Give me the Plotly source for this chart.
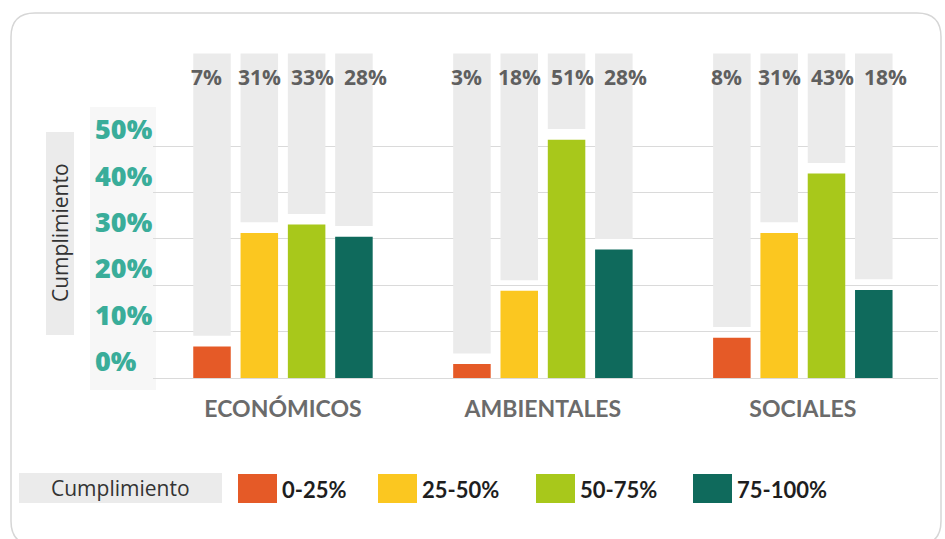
import plotly.graph_objects as go

# ---------------- data ----------------
CATEGORIES = ["ECONÓMICOS", "AMBIENTALES", "SOCIALES"]
SERIES = ["0-25%", "25-50%", "50-75%", "75-100%"]

BAR_0_25 = [6.8, 3.0, 8.7]
BAR_25_50 = [31.3, 18.8, 31.3]
BAR_50_75 = [33.1, 51.4, 44.1]
BAR_75_100 = [30.5, 27.7, 19.0]

LABEL_0_25 = ["7%", "3%", "8%"]
LABEL_25_50 = ["31%", "18%", "31%"]
LABEL_50_75 = ["33%", "51%", "43%"]
LABEL_75_100 = ["28%", "28%", "18%"]

TICK_VALUES = [0, 10, 20, 30, 40, 50]
TICK_TEXT = ["0%", "10%", "20%", "30%", "40%", "50%"]

AXIS_TITLE = "Cumplimiento"
LEGEND_TITLE = "Cumplimiento"

# ---------------- style ----------------
COLORS = ["#e55a27", "#fbc720", "#a8c81b", "#0f6a5c"]
TRACK_COLOR = "#ebebeb"
TRACK_TOP = 70
TRACK_GAP = 2.3
TEAL_TEXT = "#3aad9a"

W, H = 945, 539
L, R, T, B = 153, 7, 35, 161
Y_MAX = 74
X_RANGE = [-0.5, 2.52]
BARGAP = 0.272
BARGROUPGAP = 0.207
LABEL_SPREAD = 1.12  # value labels fan out slightly wider than the bars

PW = W - L - R
PH = H - T - B


def px(x):
    return (x - L) / PW


def py(y):
    return (H - B - y) / PH


values = [BAR_0_25, BAR_25_50, BAR_50_75, BAR_75_100]
labels = [LABEL_0_25, LABEL_25_50, LABEL_50_75, LABEL_75_100]

fig = go.Figure()

# background tracks
for j, vals in enumerate(values):
    base = [v + TRACK_GAP for v in vals]
    fig.add_trace(go.Bar(
        x=CATEGORIES, y=[TRACK_TOP - b for b in base], base=base,
        marker=dict(color=TRACK_COLOR, line=dict(width=0)),
        offsetgroup=str(j), showlegend=False, hoverinfo="skip",
    ))

# coloured bars
for j, vals in enumerate(values):
    fig.add_trace(go.Bar(
        x=CATEGORIES, y=vals, name=SERIES[j],
        marker=dict(color=COLORS[j], line=dict(width=0)),
        offsetgroup=str(j), showlegend=False,
    ))

annotations = []
slot = (1 - BARGAP) / len(values)
for j in range(len(values)):
    off = (-(1 - BARGAP) / 2 + slot * (j + 0.5)) * LABEL_SPREAD + 0.012
    for i in range(len(CATEGORIES)):
        annotations.append(dict(
            x=i + off, y=65, xref="x", yref="y", text=labels[j][i],
            showarrow=False, xanchor="center", yanchor="middle",
            font=dict(family="Open Sans", size=21, color="#5f5f5f", weight=700),
        ))

# y tick labels (left aligned, sitting on gridlines)
for v, t in zip(TICK_VALUES, TICK_TEXT):
    annotations.append(dict(
        x=px(93), y=v, xref="paper", yref="y", text=t, showarrow=False,
        xanchor="left", yanchor="bottom", yshift=-3,
        font=dict(family="Open Sans", size=27, color=TEAL_TEXT, weight=800),
    ))

# y-axis title
annotations.append(dict(
    x=px(60), y=py(233), xref="paper", yref="paper", text=AXIS_TITLE,
    textangle=-90, showarrow=False, xanchor="center", yanchor="middle",
    font=dict(family="Open Sans", size=21, color="#333333"),
))

shapes = []
# chart frame
x0, x1, y0, y1, r = px(11), px(941), py(13), py(545), 24
rx, ry = r / PW, r / PH
path = (f"M {x0 + rx} {y0} L {x1 - rx} {y0} Q {x1} {y0} {x1} {y0 - ry} "
        f"L {x1} {y1 + ry} Q {x1} {y1} {x1 - rx} {y1} "
        f"L {x0 + rx} {y1} Q {x0} {y1} {x0} {y1 + ry} "
        f"L {x0} {y0 - ry} Q {x0} {y0} {x0 + rx} {y0} Z")
shapes.append(dict(type="path", xref="paper", yref="paper", path=path,
                   line=dict(color="#d6d6d6", width=1.5), layer="below"))
# faint panel behind tick labels
shapes.append(dict(type="rect", xref="paper", yref="paper",
                   x0=px(90), x1=px(156), y0=py(390), y1=py(107),
                   fillcolor="#f7f7f7", line=dict(width=0), layer="below"))
# y title box
shapes.append(dict(type="rect", xref="paper", yref="paper",
                   x0=px(46), x1=px(74), y0=py(335), y1=py(132),
                   fillcolor="#ebebeb", line=dict(width=0), layer="below"))

# legend (drawn by hand)
shapes.append(dict(type="rect", xref="paper", yref="paper",
                   x0=px(19), x1=px(222), y0=py(503), y1=py(473),
                   fillcolor="#ebebeb", line=dict(width=0), layer="below"))
annotations.append(dict(
    x=px(120), y=py(488), xref="paper", yref="paper", text=LEGEND_TITLE,
    showarrow=False, xanchor="center", yanchor="middle",
    font=dict(family="Open Sans", size=21, color="#333333"),
))
SW_X = [238, 378, 536, 693]
for j, name in enumerate(SERIES):
    shapes.append(dict(type="rect", xref="paper", yref="paper",
                       x0=px(SW_X[j]), x1=px(SW_X[j] + 39),
                       y0=py(503), y1=py(474),
                       fillcolor=COLORS[j], line=dict(width=0)))
    annotations.append(dict(
        x=px(SW_X[j] + 42), y=py(489), xref="paper", yref="paper", text=name,
        showarrow=False, xanchor="left", yanchor="middle",
        font=dict(family="Lato", size=22, color="#1e1e1e", weight="bold"),
    ))

fig.update_layout(
    width=W, height=H,
    margin=dict(l=L, r=R, t=T, b=B, autoexpand=False),
    paper_bgcolor="white", plot_bgcolor="white",
    barmode="group", bargap=BARGAP, bargroupgap=BARGROUPGAP,
    xaxis=dict(
        range=X_RANGE, showgrid=False, zeroline=False, showline=False,
        ticks="outside", ticklen=10, tickcolor="rgba(0,0,0,0)",
        tickfont=dict(family="Lato", size=23, color="#6b6b6b", weight="bold"),
    ),
    yaxis=dict(
        range=[0, Y_MAX], tickvals=TICK_VALUES, showticklabels=False,
        showgrid=True, gridcolor="#dadada", gridwidth=1,
        zeroline=True, zerolinecolor="#dadada", zerolinewidth=1,
        showline=False,
    ),
    annotations=annotations, shapes=shapes,
)

fig.write_html("out.html", config={"displayModeBar": False},
               post_script="document.body.style.margin='0';")
